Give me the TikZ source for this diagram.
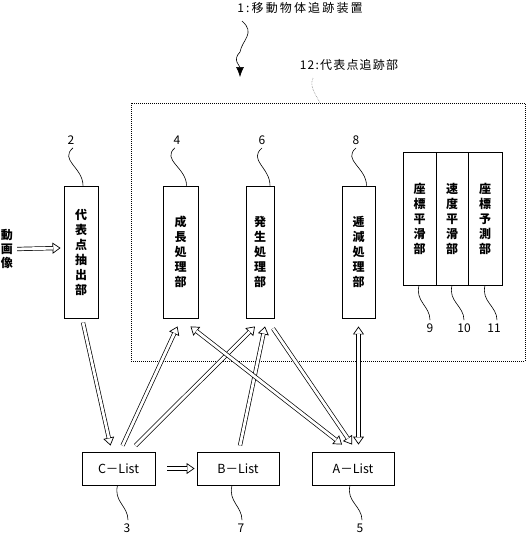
\documentclass[tikz,border=0pt]{standalone}
\usepackage{fontspec}
\setmainfont{Liberation Sans}
\newfontfamily\cjk{Noto Sans CJK JP}
\usetikzlibrary{arrows.meta}

\tikzset{
  unit/.style={draw, line width=0.9pt, minimum height=132pt, inner sep=0pt,
    align=center, font=\cjk\bfseries\fontsize{12}{15}\selectfont},
  listbox/.style={draw, line width=0.9pt, minimum width=82pt, minimum height=33pt,
    inner sep=0pt, font=\cjk\fontsize{12.5}{14}\selectfont},
  hollowtip/.tip={Triangle[open, fill=white, length=8pt, width=11pt]},
  shaft/.style={draw, double, double distance=2.8pt, line width=0.7pt, arrows=-},
  hollow/.style={line width=0.7pt, -hollowtip,
    postaction={shaft, shorten >=7.5pt}},
  hollowboth/.style={line width=0.7pt, hollowtip-hollowtip,
    postaction={shaft, shorten >=7.5pt, shorten <=7.5pt}},
  refno/.style={font=\cjk\fontsize{12}{14}\selectfont},
  lead/.style={line width=0.6pt}
}

\begin{document}
\begin{tikzpicture}[x=1pt, y=-1pt]
  \useasboundingbox (0,0) rectangle (527,535);

  % Draw the titles
  \node[refno, font=\cjk\addfontfeatures{LetterSpace=18}\fontsize{12}{14}\selectfont] (title) at (300,8) {1:移動物体追跡装置};
  \node[refno, font=\cjk\addfontfeatures{LetterSpace=10}\fontsize{12}{14}\selectfont] (tracker) at (349,65) {12:代表点追跡部};
  \draw[lead, -{Latex[length=10pt, width=8pt]}] ([xshift=-58pt,yshift=-4pt]title.south)
    .. controls +(14,12) and +(2,-12) .. (240,52)
    .. controls (232,60) and (240,66) .. (240,77);
  \draw[lead, gray, densely dotted] ([xshift=-36pt,yshift=-4pt]tracker.south)
    .. controls +(-4,8) and +(-4,-8) .. (320,103);

  % Draw the dotted frame of the tracking part
  \draw[line width=0.9pt, dash pattern=on 1pt off 1pt] (131,103) rectangle (525,361);

  % Draw the processing units
  \node[unit, minimum width=34pt] (extract) at (81,252) {代\\表\\点\\抽\\出\\部};
  \node[unit, minimum width=35pt] (grow) at (180.5,252) {成\\長\\処\\理\\部};
  \node[unit, minimum width=28pt] (birth) at (260,252) {発\\生\\処\\理\\部};
  \node[unit, minimum width=33pt] (fade) at (358.5,252) {逓\\減\\処\\理\\部};
  \node[unit, minimum width=33pt, minimum height=133pt] (possmooth) at (419.5,218.5) {座\\標\\平\\滑\\部};
  \node[unit, minimum width=32pt, minimum height=133pt] (velsmooth) at (452,218.5) {速\\度\\平\\滑\\部};
  \node[unit, minimum width=34pt, minimum height=133pt] (predict) at (485,218.5) {座\\標\\予\\測\\部};

  % Draw the lists
  \node[listbox, minimum width=73pt] (clist) at (118.5,468.5) {C－List};
  \node[listbox] (blist) at (238,468.5) {B－List};
  \node[listbox] (alist) at (353,468.5) {A－List};

  % Draw the input
  \node[align=center, inner sep=0pt, font=\cjk\bfseries\fontsize{12}{14}\selectfont] (video) at (7,249) {動\\画\\像};
  \draw[hollow] ([xshift=4pt]video.east) -- ([xshift=-3pt,yshift=4pt]extract.west);

  % Draw the reference numbers
  \node[refno] (n2) at (71,140) {2};
  \node[refno] (n4) at (177,140) {4};
  \node[refno] (n6) at (262,140) {6};
  \node[refno] (n8) at (356,140) {8};
  \node[refno] (n9) at (430,328) {9};
  \node[refno] (n10) at (464,328) {10};
  \node[refno] (n11) at (494,328) {11};
  \node[refno] (n3) at (127,528) {3};
  \node[refno] (n7) at (241,528) {7};
  \node[refno] (n5) at (360,528) {5};

  % Add the leader lines
  \draw[lead] ([xshift=2pt]n2.south) .. controls +(-14,12) and +(0,-18) .. ([xshift=2pt]extract.north);
  \draw[lead] ([xshift=-2pt]n4.south) .. controls +(-14,12) and +(0,-18) .. ([xshift=6pt]grow.north);
  \draw[lead] (n6.south) .. controls +(-14,12) and +(0,-18) .. ([xshift=10pt]birth.north);
  \draw[lead] (n8.south) .. controls +(-14,12) and +(0,-18) .. ([xshift=8pt]fade.north);
  \draw[lead] ([xshift=-0.5pt]possmooth.south) .. controls +(-4,16) and +(0,-14) .. (n9.north);
  \draw[lead] (velsmooth.south) .. controls +(-4,16) and +(0,-14) .. (n10.north);
  \draw[lead] (predict.south) .. controls +(-4,16) and +(0,-14) .. ([xshift=3pt]n11.north);
  \draw[lead] ([xshift=-1pt]clist.south) .. controls +(-4,16) and +(0,-14) .. ([xshift=1pt]n3.north);
  \draw[lead] ([xshift=-6pt]blist.south) .. controls +(-4,16) and +(0,-14) .. ([xshift=1pt]n7.north);
  \draw[lead] ([xshift=-3pt]alist.south) .. controls +(-4,16) and +(0,-14) .. ([xshift=2pt]n5.north);

  % Draw the flows between units and lists
  \draw[hollow] ([xshift=2pt,yshift=-4pt]extract.south) -- ([xshift=-8pt,yshift=6pt]clist.north);
  \draw[hollow] ([xshift=4pt,yshift=6pt]clist.north) -- ([xshift=-3pt,yshift=-8pt]grow.south);
  \draw[hollow] ([xshift=17pt,yshift=6pt]clist.north) -- ([xshift=-5pt,yshift=-8pt]birth.south);
  \draw[hollow] ([xshift=2pt,yshift=6pt]blist.north) -- ([xshift=5pt,yshift=-8pt]birth.south);
  \draw[hollowboth] ([xshift=10pt,yshift=-8pt]grow.south) -- ([xshift=-11pt,yshift=7pt]alist.north);
  \draw[hollow] ([xshift=13pt,yshift=-10pt]birth.south) -- ([xshift=-1pt,yshift=7pt]alist.north);
  \draw[hollowboth] ([yshift=-8pt]fade.south) -- ([yshift=7pt]fade.south |- alist.north);
  \draw[hollow] ([xshift=12pt]clist.east) -- ([xshift=-2pt]blist.west);
\end{tikzpicture}
\end{document}
